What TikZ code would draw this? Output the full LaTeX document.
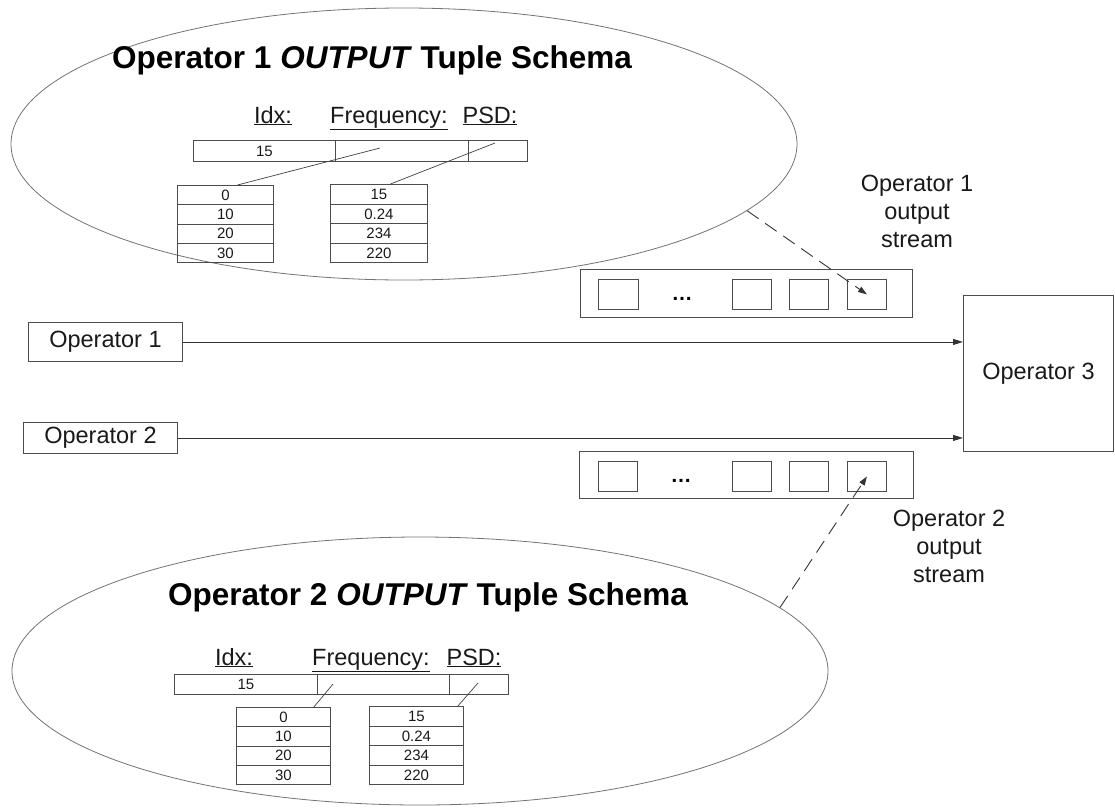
\documentclass[tikz,border=0pt]{standalone}
\usepackage{fontspec}
\setmainfont{Liberation Sans}
\usetikzlibrary{shapes.geometric,arrows.meta}

\begin{document}
\begin{tikzpicture}[x=1pt,y=-1pt,
  txt/.style={font=\fontsize{23.5}{28}\selectfont, text=black!90},
  small/.style={font=\fontsize{15}{16}\selectfont, text=black!90},
  frame/.style={draw=black!70, line width=0.9pt},
  box/.style={frame, rectangle, inner sep=0pt, anchor=north west},
  cell/.style={box, small, minimum height=#1, text height=10.8pt, text depth=0pt},
  schema/.style={ellipse, draw=black!55, line width=0.8pt, inner sep=0pt},
  flow/.style={draw=black!80, line width=0.9pt, -{Triangle[length=10pt,width=6pt]}},
  link/.style={draw=black!80, line width=0.9pt, dash pattern=on 14pt off 8pt,
               -{Triangle[length=9pt,width=6pt]}},
  ptr/.style={draw=black!75, line width=0.7pt},
  title/.style={font=\fontsize{31.5}{36}\selectfont\bfseries, anchor=base west, inner sep=0pt},
  head/.style={txt, anchor=base, inner sep=0pt},
  dots/.style={anchor=base, inner sep=0pt, font=\fontsize{21}{21}\selectfont\bfseries}
]
\useasboundingbox (0,0) rectangle (1115,809);

% ---------- schema of operator 1 ----------
\node[schema, minimum width=786pt, minimum height=272pt] (e1) at (404,144) {};
\node[title] (t1) at (112,68) {Operator 1 \textit{OUTPUT} Tuple Schema};
\node[head] (h11) at (273,123) {\underline{Idx:}};
\node[head] (h12) at (389,123) {\underline{Frequency:}};
\node[head] (h13) at (490,123) {\underline{PSD:}};
\node[cell=21pt, minimum width=142pt] (b11) at (193,140) {15};
\node[cell=21pt, minimum width=133pt] (b12) at (335,140) {};
\node[cell=21pt, minimum width=59pt]  (b13) at (468,140) {};
\foreach \v [count=\i] in {0,10,20,30}
  \node[cell=19.25pt, minimum width=96pt] (la\i) at (177,{185+19.25*(\i-1)}) {\v};
\foreach \v [count=\i] in {15,0.24,234,220}
  \node[cell=19.5pt, minimum width=97pt] (ra\i) at (330,{184+19.5*(\i-1)}) {\v};
\coordinate (pa1) at (380,148);
\coordinate (pa2) at (495,143);
\draw[ptr] (pa1) -- ([xshift=12pt]la1.north);
\draw[ptr] (pa2) -- ([xshift=11.5pt]ra1.north);

% ---------- schema of operator 2 ----------
\node[schema, minimum width=816pt, minimum height=268pt] (e2) at (420,671) {};
\node[title] (t2) at (168,605) {Operator 2 \textit{OUTPUT} Tuple Schema};
\node[head] (h21) at (234,665) {\underline{Idx:}};
\node[head] (h22) at (371,665) {\underline{Frequency:}};
\node[head] (h23) at (474,665) {\underline{PSD:}};
\node[cell=20pt, minimum width=143pt] (b21) at (174,674) {15};
\node[cell=20pt, minimum width=132pt] (b22) at (317,674) {};
\node[cell=20pt, minimum width=59pt]  (b23) at (449,674) {};
\foreach \v [count=\i] in {0,10,20,30}
  \node[cell=19.25pt, minimum width=94pt] (lb\i) at (236,{707+19.25*(\i-1)}) {\v};
\foreach \v [count=\i] in {15,0.24,234,220}
  \node[cell=19.5pt, minimum width=94pt] (rb\i) at (369,{706+19.5*(\i-1)}) {\v};
\coordinate (pb1) at (333,684);
\coordinate (pb2) at (478,683);
\draw[ptr] (pb1) -- ([xshift=-17pt]lb1.north east);
\draw[ptr] (pb2) -- ([xshift=-6pt]rb1.north east);

% ---------- operators ----------
\node[box, txt, minimum width=154pt, minimum height=39pt] (op1) at (28,322) {Operator 1};
\node[box, txt, minimum width=154pt, minimum height=31pt] (op2) at (23,422) {Operator 2};
\node[box, txt, minimum width=150pt, minimum height=156pt] (op3) at (963,295) {Operator 3};
\draw[flow] (op1.east) -- (op1.east -| op3.west);
\draw[flow] (op2.east) -- (op2.east -| op3.west);

% ---------- output streams ----------
\node[box, minimum width=332pt, minimum height=48pt] (sa) at (580,269) {};
\node[box, minimum width=40pt, minimum height=30pt] (sa1) at (598,279) {};
\node[box, minimum width=39pt, minimum height=30pt] (sa2) at (732,279) {};
\node[box, minimum width=39pt, minimum height=30pt] (sa3) at (789,279) {};
\node[box, minimum width=39pt, minimum height=30pt] (sa4) at (847,279) {};
\node[dots] (sad) at (682,300) {…};

\node[box, minimum width=334pt, minimum height=47pt] (sb) at (579,451) {};
\node[box, minimum width=39pt, minimum height=30pt] (sb1) at (598,461) {};
\node[box, minimum width=39pt, minimum height=30pt] (sb2) at (732,461) {};
\node[box, minimum width=39pt, minimum height=30pt] (sb3) at (789,461) {};
\node[box, minimum width=39pt, minimum height=30pt] (sb4) at (847,461) {};
\node[dots] (sbd) at (681,482) {…};

\node[txt, align=center, inner sep=0pt] (la) at (917,211) {Operator 1\\output\\stream};
\node[txt, align=center, inner sep=0pt] (lb) at (949,546) {Operator 2\\output\\stream};

\draw[link] (e1.-11.8) -- (sa4.center);
\draw[link] (e2.10) -- (sb4.center);
\end{tikzpicture}
\end{document}
